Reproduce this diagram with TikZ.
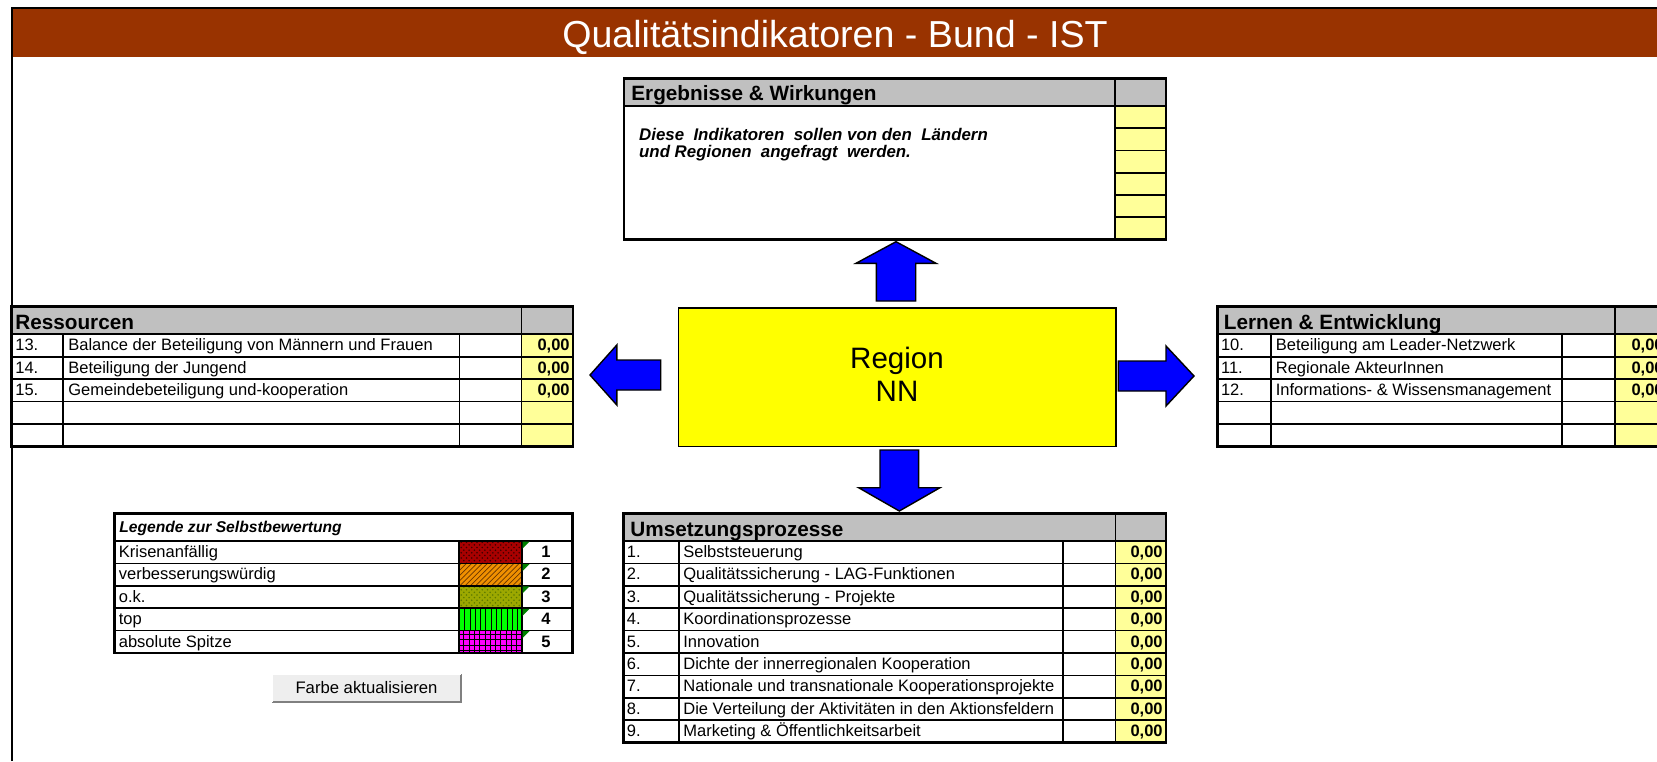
\documentclass[tikz,border=0pt]{standalone}
\usepackage{fontspec}
\setmainfont{Liberation Sans}
\usetikzlibrary{patterns}

\definecolor{bandbrown}{HTML}{993300}
\definecolor{headgray}{HTML}{C0C0C0}
\definecolor{cellyellow}{HTML}{FFFF99}
\definecolor{regionyellow}{HTML}{FFFF00}
\definecolor{arrowblue}{HTML}{0000FF}
\definecolor{markgreen}{HTML}{008000}
\definecolor{buttongray}{HTML}{EEEEEE}
\definecolor{buttonshade}{HTML}{808080}

\newcommand{\titlefont}{\fontsize{21.4}{24}\selectfont}
\newcommand{\headfont}{\fontsize{11.8}{14}\selectfont\bfseries}
\newcommand{\cellfont}{\fontsize{9.4}{11}\selectfont}
\newcommand{\notefont}{\fontsize{9.6}{11}\selectfont\bfseries\itshape}
\newcommand{\legendfont}{\fontsize{8.9}{10}\selectfont\bfseries\itshape}
\newcommand{\regionfont}{\fontsize{16.8}{18.6}\selectfont}
\newcommand{\buttonfont}{\fontsize{9.5}{11}\selectfont}

\begin{document}
\begin{tikzpicture}[x=0.02cm,y=-0.02cm,
  grid/.style={line width=1pt},
  frame/.style={line width=1.5pt},
  txt/.style={inner sep=0pt,anchor=base west,font=\cellfont},
  val/.style={inner sep=0pt,anchor=base east,font=\cellfont\bfseries},
  head/.style={inner sep=0pt,anchor=base west,font=\headfont},
  blockarrow/.style={fill=arrowblue,draw=black,line width=0.8pt,line join=miter}]
  \useasboundingbox (0,0) rectangle (1657,761);
  \clip (0,0) rectangle (1657,761);

  % title band
  \fill[bandbrown] (13,9) rectangle (1657,57);
  \draw[line width=1.15pt] (12,761) -- (12,8) -- (1657,8);
  \node[font=\titlefont,text=white,anchor=base,inner sep=0pt] (title) at (835,47) {Qualitätsindikatoren - Bund - IST};

  % Ergebnisse & Wirkungen
  \fill[headgray] (624,78.3) rectangle (1166,106);
  \fill[cellyellow] (1115,106) rectangle (1166,239.3);
  \foreach \y in {128.3,150.5,172.7,194.9,217.1}
    \draw[grid] (1115,\y) -- (1166,\y);
  \draw[grid] (624,106) -- (1166,106);
  \draw[grid] (1115,78.3) -- (1115,239.3);
  \draw[frame] (624,78.3) rectangle (1166,239.3);
  \node[head] (ergHead) at (631,100.5) {Ergebnisse \& Wirkungen};
  \node[inner sep=0pt,anchor=base west,font=\notefont] (ergNoteA) at (638.8,140) {Diese\ \ Indikatoren\ \ sollen von den\ \ Ländern};
  \node[inner sep=0pt,anchor=base west,font=\notefont] (ergNoteB) at (638.8,157.7) {und Regionen\ \ angefragt\ \ werden.};

  % Region
  \node[draw=black,fill=regionyellow,line width=0.9pt,minimum width=8.75cm,minimum height=2.78cm,
        align=center,font=\regionfont] (region) at (897,377.2) {\raisebox{3pt}{Region}\\\raisebox{3pt}{NN}};

  % arrows
  \draw[blockarrow] (876.3,301) -- (876.3,263.3) -- (856,263.3) -- (896,241.7)
    -- (936,263.3) -- (915.7,263.3) -- (915.7,301) -- cycle;
  \draw[blockarrow] (880,450) -- (918.6,450) -- (918.6,487.7) -- (940,487.7)
    -- (899.3,511) -- (858.6,487.7) -- (880,487.7) -- cycle;
  \draw[blockarrow] (660.7,360) -- (616.8,360) -- (616.8,345) -- (590,375)
    -- (616.8,405) -- (616.8,390) -- (660.7,390) -- cycle;
  \draw[blockarrow] (1118.3,361) -- (1166,361) -- (1166,346) -- (1194,376)
    -- (1166,406) -- (1166,391) -- (1118.3,391) -- cycle;

  % Ressourcen
  \fill[headgray] (11.5,306.7) rectangle (573,334.3);
  \fill[cellyellow] (521.5,334.3) rectangle (573,446.3);
  \foreach \y in {334.3,356.7,379.1,401.5,423.9}
    \draw[grid] (11.5,\y) -- (573,\y);
  \foreach \x in {63,459.5}
    \draw[grid] (\x,334.3) -- (\x,446.3);
  \draw[grid] (521.5,306.7) -- (521.5,446.3);
  \draw[frame] (11.5,306.7) rectangle (573,446.3);
  \node[head] (resHead) at (15,329.5) {Ressourcen};
  \foreach \n/\t [count=\i] in {13./Balance der Beteiligung von Männern und Frauen,
      14./Beteiligung der Jungend,15./Gemeindebeteiligung und-kooperation} {
    \node[txt] (resNum\i) at (15,{334.3+\i*22.4-6}) {\n};
    \node[txt] (resText\i) at (68,{334.3+\i*22.4-6}) {\t};
    \node[val] (resVal\i) at (570,{334.3+\i*22.4-6}) {0,00};
  }

  % Lernen & Entwicklung
  \fill[headgray] (1217.3,306.7) rectangle (1667,334.3);
  \fill[cellyellow] (1615,334.3) rectangle (1667,446.3);
  \foreach \y in {334.3,356.7,379.1,401.5,423.9}
    \draw[grid] (1217.3,\y) -- (1667,\y);
  \foreach \x in {1270.7,1561.7}
    \draw[grid] (\x,334.3) -- (\x,446.3);
  \draw[grid] (1615,306.7) -- (1615,446.3);
  \draw[frame] (1217.3,306.7) rectangle (1667,446.3);
  \node[head] (lerHead) at (1223.5,329.5) {Lernen \& Entwicklung};
  \foreach \n/\t [count=\i] in {10./Beteiligung am Leader-Netzwerk,
      11./Regionale AkteurInnen,12./Informations- \& Wissensmanagement} {
    \node[txt] (lerNum\i) at (1220.7,{334.3+\i*22.4-6}) {\n};
    \node[txt] (lerText\i) at (1275.5,{334.3+\i*22.4-6}) {\t};
    \node[val] (lerVal\i) at (1664,{334.3+\i*22.4-6}) {0,00};
  }

  % Umsetzungsprozesse
  \fill[headgray] (623.5,513.3) rectangle (1166,541);
  \fill[cellyellow] (1115.5,541) rectangle (1166,742.6);
  \foreach \k in {0,...,8}
    \draw[grid] (623.5,{541+\k*22.4}) -- (1166,{541+\k*22.4});
  \foreach \x in {679,1063}
    \draw[grid] (\x,541) -- (\x,742.6);
  \draw[grid] (1115.5,513.3) -- (1115.5,742.6);
  \draw[frame] (623.5,513.3) rectangle (1166,742.6);
  \node[head] (umsHead) at (630,536) {Umsetzungsprozesse};
  \begin{scope}
    \clip (679,541) rectangle (1063,742.6);
    \foreach \t [count=\i] in {Selbststeuerung,Qualitätssicherung - LAG-Funktionen,
        Qualitätssicherung - Projekte,Koordinationsprozesse,Innovation,
        Dichte der innerregionalen Kooperation,Nationale und transnationale Kooperationsprojekte,
        Die Verteilung der Aktivitäten in den Aktionsfeldern,Marketing \& Öffentlichkeitsarbeit}
      \node[txt] (umsText\i) at (683,{541+\i*22.4-6}) {\t};
  \end{scope}
  \foreach \i in {1,...,9} {
    \node[txt] (umsNum\i) at (626.5,{541+\i*22.4-6}) {\i.};
    \node[val] (umsVal\i) at (1163,{541+\i*22.4-6}) {0,00};
  }

  % Legende
  \foreach \base/\pat/\pcol [count=\i] in {A80000/crosshatch dots/3A0000,
      F09000/north east lines/6A3500,9CA800/crosshatch dots/5E7A00,
      00FF00/vertical lines/000000,FF00FF/grid/000000} {
    \definecolor{swbase}{HTML}{\base}
    \definecolor{swpat}{HTML}{\pcol}
    \fill[swbase] (459.3,{541+(\i-1)*22.4}) rectangle (521.7,{541+\i*22.4});
    \fill[pattern=\pat,pattern color=swpat] (459.3,{541+(\i-1)*22.4}) rectangle (521.7,{541+\i*22.4});
  }
  \foreach \k in {0,...,4}
    \draw[grid] (114.3,{541+\k*22.4}) -- (572.7,{541+\k*22.4});
  \foreach \x in {459.3,521.7}
    \draw[grid] (\x,541) -- (\x,653);
  \draw[frame] (114.3,513.3) rectangle (572.7,653);
  \foreach \k in {0,...,4}
    \fill[markgreen] (522.5,{541.6+\k*22.4}) -- ++(7,0) -- ++(-7,7) -- cycle;
  \node[inner sep=0pt,anchor=base west,font=\legendfont] (legHead) at (119,532) {Legende zur Selbstbewertung};
  \foreach \t [count=\i] in {Krisenanfällig,verbesserungswürdig,o.k.,top,absolute Spitze} {
    \node[txt] (legText\i) at (118.5,{541+\i*22.4-6}) {\t};
    \node[inner sep=0pt,anchor=base,font=\cellfont\bfseries] (legNum\i) at (546,{541+\i*22.4-6}) {\i};
  }

  % button
  \fill[buttongray] (272.3,674) rectangle (460.7,701.7);
  \draw[buttonshade,line width=1.2pt] (272.3,701.7) -- (460.7,701.7) -- (460.7,674);
  \draw[white,line width=0.8pt] (272.3,701.7) -- (272.3,674) -- (460.7,674);
  \node[font=\buttonfont,inner sep=0pt] (refreshBtn) at (366.5,688) {Farbe aktualisieren};
\end{tikzpicture}
\end{document}
